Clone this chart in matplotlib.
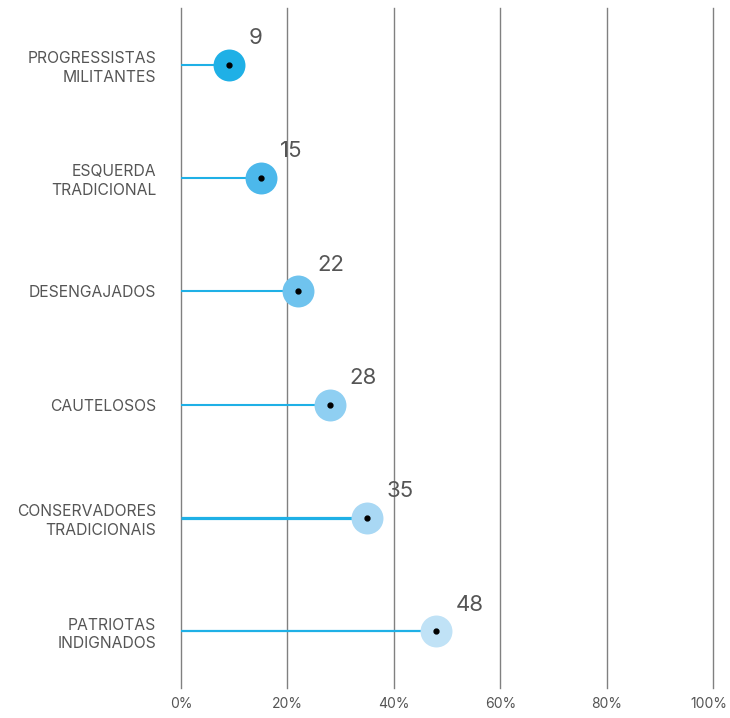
import matplotlib.pyplot as plt

# data
categories = ['PROGRESSISTAS\nMILITANTES', 'ESQUERDA\nTRADICIONAL', 'DESENGAJADOS',
              'CAUTELOSOS', 'CONSERVADORES\nTRADICIONAIS', 'PATRIOTAS\nINDIGNADOS']
values = [9, 15, 22, 28, 35, 48]
dot_colors = ['#1fb0e6', '#4cb8eb', '#6fc3ee', '#8fcff2', '#a9d8f4', '#c0e2f6']
stem_widths = [1.5, 1.5, 1.5, 1.5, 2.3, 1.6]
xticks = [0, 20, 40, 60, 80, 100]
xtick_labels = ['0%', '20%', '40%', '60%', '80%', '100%']

plt.rcParams['font.family'] = ['Inter', 'DejaVu Sans']

fig = plt.figure(figsize=(7.3, 7.18), dpi=100)
ax = fig.add_axes([0.248, 0.042, 0.729, 0.947])

ypos = list(range(len(categories)))

# vertical grid lines
for x in xticks:
    ax.axvline(x, color='#808080', lw=1, zorder=0, clip_on=False)

# lollipops
for i, (v, c, w) in enumerate(zip(values, dot_colors, stem_widths)):
    ax.plot([0, v], [i, i], color='#1fb0e6', lw=w, zorder=2, solid_capstyle='butt')
    ax.plot(v, i, 'o', ms=23, color=c, mec='none', zorder=3)
    ax.plot(v, i, 'o', ms=3.5, color='black', zorder=4)
    ax.annotate(str(v), (v, i), xytext=(14, 19), textcoords='offset points',
                fontsize=16, color='#555555', ha='left', va='center')

ax.set_xlim(0, 100)
ax.set_ylim(len(categories) - 0.5, -0.5)
ax.set_yticks(ypos)
ax.set_yticklabels(categories, fontsize=11.3, color='#555555', ha='right',
                   multialignment='right', linespacing=1.3)

# x tick labels drawn by hand so the last one stays inside the figure
ax.set_xticks(xticks)
ax.set_xticklabels([])
trans = ax.get_xaxis_transform()
for x, lab in zip(xticks, xtick_labels):
    xx = min(x, 99.2)
    ax.text(xx, -0.013, lab, transform=trans, fontsize=10, color='#555555',
            ha='center', va='top')

ax.tick_params(length=0)
ax.tick_params(axis='y', pad=18)
for s in ax.spines.values():
    s.set_visible(False)

plt.savefig('out.png', dpi=100)
